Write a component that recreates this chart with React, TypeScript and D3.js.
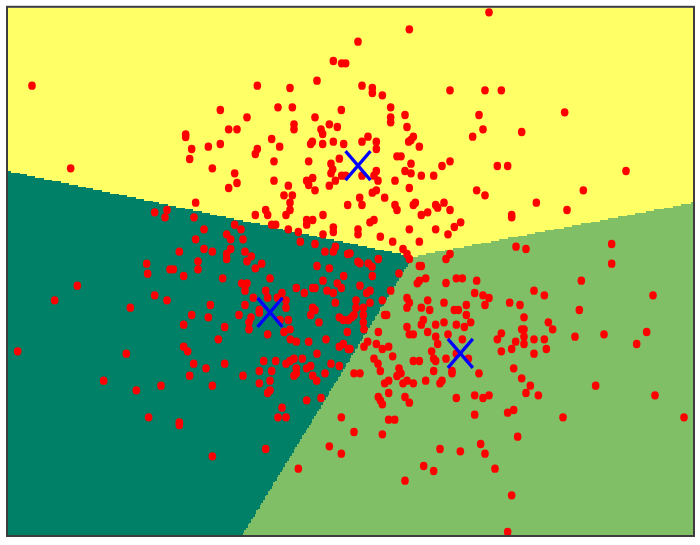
import React from 'react';
import * as d3 from 'd3';

// values, grouped by quadrant of the plot
const northWest = [
  [96,257],[212,505],[1000,183],[1025,190],[1037,190],[951,242],[772,257],[870,264],[661,330],[741,352],
  [834,322],[877,322],[1024,330],[945,352],[882,373],[882,388],[988,373],[1012,381],[963,388],[968,402],
  [686,388],[711,388],[557,403],[557,411],[815,417],[839,440],[937,425],[932,432],[968,432],[1000,425],
  [1031,432],[661,432],[625,440],[575,447],[772,447],[766,462],[569,477],[822,484],[926,484],[1018,476],
  [993,491],[637,505],[998,508],[993,520],[704,520],[1025,527],[1037,527],[711,549],[822,542],[920,542],
  [938,534],[926,555],[1006,542],[988,557],[865,557],[686,564],[945,571],[852,586],[877,586],[587,608],
  [870,608],[870,630],[1043,615],[797,630],[803,645],[766,645],[858,645],[969,645],[920,660],[938,660],
  [920,674],[815,674],[827,674],[1000,682],[1000,696],[865,688],[895,696],[969,703],[501,630],[464,637],
  [495,652],[582,652],[704,674],[723,688],[612,688],[680,703],[692,718],[587,718],[729,718],[901,725],
  [945,732],[1006,740],[1000,755],[975,755],[612,747],[637,755],[692,747],[735,755],[538,755],[680,762],
  [680,777],[754,769],[741,784],[785,791],[766,805],[594,784],[440,791],[951,798],[1043,762],[988,805],
  [510,808],[520,808],[594,808],
];

const northEast = [
  [1467,37],[1228,88],[1074,125],[1086,257],[1117,264],[1117,279],[1147,286],[1350,271],[1455,271],[1504,271],
  [1172,322],[1215,345],[1437,345],[1694,337],[1172,352],[1172,367],[1221,381],[1449,388],[1418,410],[1565,396],
  [1104,410],[1086,425],[1129,425],[1129,447],[1240,410],[1233,420],[1226,425],[1258,440],[1191,469],[1203,469],
  [1233,491],[1350,484],[1326,498],[1492,498],[1523,498],[1878,513],[1129,513],[1122,527],[1086,527],[1215,513],
  [1233,520],[1264,527],[1301,527],[1134,542],[1185,542],[1228,564],[1129,571],[1117,578],[1430,571],[1455,586],
  [1750,571],[1079,593],[1154,593],[1086,615],[1185,615],[1191,630],[1246,608],[1240,615],[1307,615],[1313,623],
  [1332,608],[1350,630],[1609,608],[1701,630],[1264,645],[1283,637],[1535,645],[1535,652],[1122,660],[1110,667],
  [1382,667],[1363,681],[1228,688],[1307,688],[1074,688],[1074,703],[1344,703],[1141,710],[1178,725],[1258,725],
  [1548,740],[1578,747],[1835,732],[1835,791],[1209,747],[1221,762],[1228,777],[1350,762],[1338,777],[1258,798],
  [1264,798],[1050,760],[1074,785],[1080,790],[1105,790],[1116,800],[1135,777],
];

const southWest = [
  [443,821],[551,828],[668,835],[810,835],[232,857],[164,901],[464,886],[501,901],[391,923],[631,915],
  [575,945],[625,952],[551,974],[674,981],[655,1018],[551,1040],[563,1054],[53,1054],[379,1061],[581,1091],
  [618,1105],[674,1091],[569,1127],[729,1127],[311,1142],[483,1157],[637,1157],[409,1171],[446,1252],[538,1267],
  [538,1275],[637,1369],[797,1347],[895,1406],[988,1339],[1024,1361],[1024,1252],[846,1223],[834,1252],[858,1252],
  [920,1201],[963,1194],[725,850],[741,850],[735,857],[735,872],[797,872],[760,893],[803,893],[846,879],
  [832,893],[858,901],[858,923],[735,915],[717,945],[778,930],[778,938],[840,960],[865,960],[753,952],
  [747,967],[747,988],[803,1003],[852,996],[870,988],[871,1018],[889,1025],[926,1025],[978,1018],[1018,1040],
  [1030,1032],[1045,1047],[951,1061],[791,1083],[827,1083],[858,1091],[870,1083],[882,1076],[907,1076],[889,1105],
  [920,1105],[932,1098],[993,1091],[1018,1098],[778,1113],[815,1113],[889,1120],[882,1127],[938,1127],[975,1120],
  [950,1142],[810,1142],[778,1150],[810,1171],[803,1179],[889,864],[913,879],[938,864],[945,864],[969,842],
  [981,872],[1000,879],[1012,850],[1024,864],[1031,828],[1006,908],[938,923],[945,930],[932,945],[957,967],
  [1018,952],[1030,960],[1045,960],[1042,996],
];

const southEast = [
  [1117,828],[1197,820],[1080,857],[1110,872],[1100,879],[1172,872],[1068,901],[1110,908],[1147,901],[1090,923],
  [1068,923],[1062,945],[1090,945],[1055,952],[1090,967],[1092,988],[1050,1047],[1277,835],[1258,842],[1252,850],
  [1338,849],[1369,835],[1387,835],[1430,842],[1744,842],[1424,879],[1449,886],[1467,894],[1602,872],[1633,886],
  [1959,886],[1221,894],[1228,908],[1221,923],[1283,901],[1264,923],[1289,930],[1332,908],[1399,915],[1455,915],
  [1529,908],[1560,915],[1363,930],[1375,930],[1738,930],[1154,945],[1160,945],[1399,945],[1572,952],[1270,960],
  [1264,974],[1307,974],[1332,967],[1369,974],[1412,967],[1393,981],[1221,981],[1645,967],[1135,996],[1228,1003],
  [1240,1003],[1283,996],[1344,1003],[1565,988],[1572,988],[1658,988],[1504,1000],[1492,1018],[1307,1010],[1387,1018],
  [1572,1010],[1572,1032],[1602,1018],[1633,1018],[1725,1010],[1812,1003],[1940,996],[1910,1032],[1547,1025],[1535,1047],
  [1504,1054],[1313,1032],[1129,1032],[1103,1025],[1092,1040],[1147,1047],[1166,1040],[1295,1054],[1602,1061],[1639,1047],
  [1178,1069],[1122,1076],[1134,1091],[1141,1113],[1240,1083],[1258,1083],[1301,1076],[1307,1083],[1338,1076],[1369,1061],
  [1405,1076],[1197,1105],[1203,1120],[1191,1128],[1301,1113],[1356,1113],[1356,1120],[1437,1120],[1541,1105],[1062,1120],
  [1080,1120],[1565,1135],[1166,1142],[1154,1150],[1221,1142],[1209,1150],[1240,1150],[1277,1142],[1326,1142],[1320,1150],
  [1591,1157],[1787,1157],[1166,1179],[1578,1179],[1615,1186],[1965,1186],[1135,1191],[1141,1201],[1147,1213],[1215,1191],
  [1228,1208],[1369,1194],[1424,1186],[1449,1194],[1467,1186],[1541,1230],[1523,1238],[1424,1244],[1689,1252],[2052,1252],
  [1166,1259],[1184,1259],[1062,1296],[1147,1303],[1553,1310],[1442,1332],[1320,1347],[1381,1354],[1455,1361],[1271,1398],
  [1301,1413],[1485,1406],[1215,1442],[1535,1486],[1523,1596],
];

const centroids = [[1074,497],[810,937],[1381,1060]];
const regionColors = ['#ffff66','#008066','#80bf66'];

const xDomain = [24, 2079];
const yDomain = [24, 1608];

const W = 700;
const H = 545;
const left = 8, right = 693, top = 8, bottom = 536;
const cellW = 1.7, cellH = 1.75;
const yStretch = 2.84; // the axes aren't equal, y counts more in the distance
const meshShiftX = 2.5, meshShiftY = 2.8; // the mesh sits a little off the points

const x = d3.scaleLinear().domain(xDomain).range([left, right]);
const y = d3.scaleLinear().domain(yDomain).range([top, bottom]);

const nearest = (px: number, py: number) => {
  const dx = x.invert(px - meshShiftX), dy = y.invert(py + meshShiftY);
  return d3.minIndex(centroids, c => (c[0] - dx) ** 2 + yStretch * (c[1] - dy) ** 2);
};

// decision mesh: merge each row into runs, one path per region
function meshPaths() {
  const paths = regionColors.map(() => d3.path());
  for (const py of d3.range(top, bottom, cellH)) {
    let start = left;
    let cur = nearest(left + cellW / 2, py + cellH / 2);
    for (const px of d3.range(left, right, cellW)) {
      const c = nearest(px + cellW / 2, py + cellH / 2);
      if (c !== cur) {
        paths[cur].rect(start, py, px - start, cellH + 0.3);
        start = px;
        cur = c;
      }
    }
    paths[cur].rect(start, py, right - start, cellH + 0.3);
  }
  return paths.map(p => p.toString());
}

const points = [...northWest, ...northEast, ...southWest, ...southEast];
const armX = 12.5, armY = 14.5;

export default function App() {
  const mesh = meshPaths();
  const line = d3.line();
  return (
    <svg width={W} height={H} style={{ position: 'absolute', left: 0, top: 0, background: '#fff' }}>
      <defs>
        <clipPath id="plot"><rect x={left} y={top} width={right - left} height={bottom - top} /></clipPath>
        <filter id="soft" x="-2%" y="-2%" width="104%" height="104%">
          <feGaussianBlur stdDeviation="0.65" />
        </filter>
      </defs>
      <g filter="url(#soft)">
        <g clipPath="url(#plot)">
          {mesh.map((d, i) => <path key={i} d={d} fill={regionColors[i]} shapeRendering="crispEdges" />)}
          {points.map((p, i) => <ellipse key={i} cx={x(p[0])} cy={y(p[1])} rx={3.8} ry={4.2} fill="#ff0000" />)}
          {centroids.map((c, i) => {
            const cx = x(c[0]), cy = y(c[1]);
            return (
              <g key={i} fill="none" stroke="#0000ff" strokeWidth={3.2}>
                <path d={line([[cx - armX, cy - armY], [cx + armX, cy + armY]]) as string} />
                <path d={line([[cx - armX, cy + armY], [cx + armX, cy - armY]]) as string} />
              </g>
            );
          })}
        </g>
        <rect x={left - 1} y={top - 1.2} width={right - left + 2} height={bottom - top + 1.2} fill="none" stroke="#3c3c3c" strokeWidth={2} />
      </g>
    </svg>
  );
}
